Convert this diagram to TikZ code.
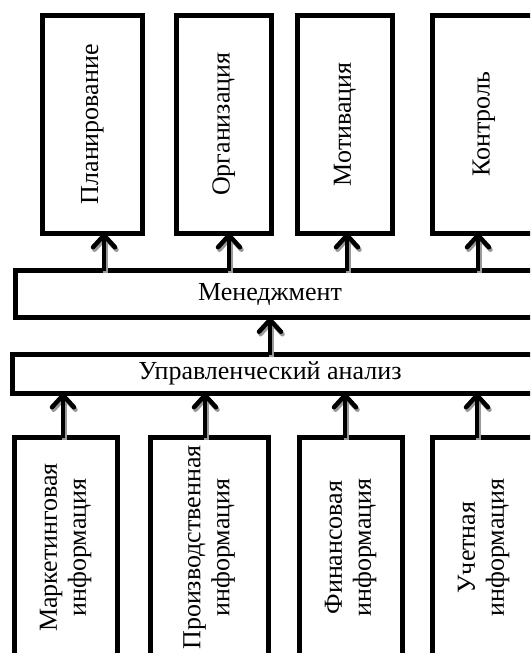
\documentclass[tikz,border=0pt]{standalone}
\usepackage{fontspec}
\setmainfont{Liberation Serif}
\usetikzlibrary{arrows.meta}
\begin{document}
\begin{tikzpicture}[x=1pt,y=-1pt,
  box/.style={draw=black, line width=5pt, fill=white, inner sep=0pt, outer sep=0pt,
    font=\fontsize{26}{29}\selectfont},
  arr/.style={line width=4.5pt, -{Straight Barb[length=12pt,width=22pt,line width=4.5pt,round]}},
  shad/.style={arr, draw=black!40, transform canvas={shift={(1.5pt,-2.5pt)}}},
  two/.style={}]
\useasboundingbox (0,0) rectangle (530,653);
\clip (0,0) rectangle (530,653);
\fill[white] (0,0) rectangle (530,653);
% top boxes
\node[box, minimum width=100pt, minimum height=217.5pt] (plan) at (92.5,124.25) {\rotatebox{90}{Планирование}};
\node[box, minimum width=94.5pt, minimum height=217.5pt] (org) at (223.75,124.25) {\rotatebox{90}{Организация}};
\node[box, minimum width=94.5pt, minimum height=217.5pt] (mot) at (344.75,124.25) {\rotatebox{90}{Мотивация}};
\node[box, minimum width=102.5pt, minimum height=217.5pt] (kon) at (483.75,124.25) {\rotatebox{90}{Контроль}};
% middle boxes
\node[box, minimum width=525pt, minimum height=47pt] (men) at (277.5,294) {\hspace*{-15pt}Менеджмент};
\node[box, minimum width=527.5pt, minimum height=38.5pt] (upr) at (276.25,373.75) {\hspace*{-12.5pt}Управленческий анализ};
% bottom boxes
\node[box, minimum width=103pt, minimum height=220pt] (mar) at (65.5,547.5) {\rotatebox{90}{\begin{tabular}{@{}c@{}}Маркетинговая\\информация\end{tabular}}};
\node[box, minimum width=118pt, minimum height=220pt] (pro) at (209,547.5) {\rotatebox{90}{\begin{tabular}{@{}c@{}}Производственная\\информация\end{tabular}}};
\node[box, minimum width=103pt, minimum height=220pt] (fin) at (350.5,547.5) {\rotatebox{90}{\begin{tabular}{@{}c@{}}Финансовая\\информация\end{tabular}}};
\node[box, minimum width=103pt, minimum height=220pt] (uch) at (483.5,547.5) {\rotatebox{90}{\begin{tabular}{@{}c@{}}Учетная\\информация\end{tabular}}};
% connector anchors
\coordinate (t1) at ([xshift=11.5pt]plan.south);
\coordinate (t2) at ([xshift=5.25pt]org.south);
\coordinate (t3) at ([xshift=2.25pt]mot.south);
\coordinate (t4) at ([xshift=-5.75pt]kon.south);
\coordinate (tm) at ([xshift=-7.5pt]men.south);
\coordinate (b1) at ([xshift=-2.5pt]mar.north);
\coordinate (b2) at ([xshift=-4pt]pro.north);
\coordinate (b3) at ([xshift=-5.5pt]fin.north);
\coordinate (b4) at ([xshift=-6.5pt]uch.north);
\foreach \s/\t/\c in {men/plan/t1, men/org/t2, men/mot/t3, men/kon/t4, upr/men/tm,
                      mar/upr/b1, pro/upr/b2, fin/upr/b3, uch/upr/b4}{
  \draw[shad] (\s.north -| \c) -- (\t.south -| \c);
  \draw[arr] (\s.north -| \c) -- (\t.south -| \c);
}
\end{tikzpicture}
\end{document}
